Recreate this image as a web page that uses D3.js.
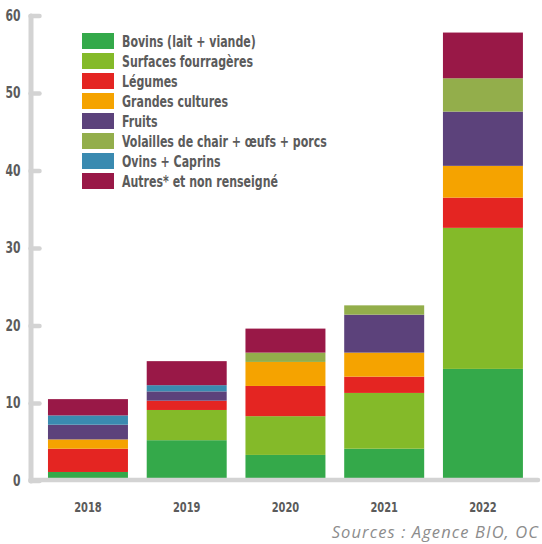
<!DOCTYPE html>
<html>
<head>
<meta charset="utf-8">
<script src="https://cdn.jsdelivr.net/npm/d3@7"></script>
<style>
  html, body { margin: 0; padding: 0; background: #ffffff; }
  svg { display: block; }
</style>
</head>
<body>
<svg id="chart" width="542" height="544"></svg>
<script>
// ---- data ----
const years = ["2018", "2019", "2020", "2021", "2022"];
const seriesNames = [
  "Bovins (lait + viande)",
  "Surfaces fourragères",
  "Légumes",
  "Grandes cultures",
  "Fruits",
  "Volailles de chair + œufs + porcs",
  "Ovins + Caprins",
  "Autres* et non renseigné"
];
const bovins    = [1.1, 5.2, 3.3, 4.1, 14.4];
const surfaces  = [0,   3.9, 5.0, 7.2, 18.2];
const legumes   = [3.0, 1.2, 3.9, 2.1, 3.9];
const grandes   = [1.2, 0,   3.1, 3.1, 4.1];
const fruits    = [1.9, 1.2, 0,   4.9, 7.0];
const volailles = [0,   0,   1.2, 1.2, 4.3];
const ovins     = [1.2, 0.8, 0,   0,   0];
const autres    = [2.1, 3.1, 3.1, 0,   5.9];
const yTicks = [0, 10, 20, 30, 40, 50, 60];
const sourceText = "Sources : Agence BIO, OC";

const colors = ["#34a94a", "#84ba29", "#e42522", "#f5a300", "#5c427b", "#93ae4b", "#3a8ab0", "#991847"];

// ---- build table ----
const seriesValues = [bovins, surfaces, legumes, grandes, fruits, volailles, ovins, autres];
const keys = seriesNames;
const table = years.map((yr, i) => {
  const row = { year: yr };
  keys.forEach((k, j) => { row[k] = seriesValues[j][i]; });
  return row;
});

const svg = d3.select("#chart");
const fontCond = "'Liberation Sans Narrow', 'DejaVu Sans Condensed', 'Roboto', sans-serif";
const textGray = "#5b5b5b";
const axisGray = "#d3d3d3";

const x = d3.scaleBand().domain(years).range([38.1, 532.8]).paddingInner(0.19).paddingOuter(0.1);
const y = d3.scaleLinear().domain([0, 60]).range([480.5, 15.5]);

const stack = d3.stack().keys(keys);
const stacked = stack(table);
const color = d3.scaleOrdinal().domain(keys).range(colors);

// bars
svg.append("g").selectAll("g")
  .data(stacked)
  .join("g")
  .attr("fill", d => color(d.key))
  .selectAll("rect")
  .data(d => d)
  .join("rect")
  .attr("x", d => x(d.data.year))
  .attr("width", x.bandwidth())
  .attr("y", d => y(d[1]))
  .attr("height", d => Math.max(0, y(d[0]) - y(d[1])));

// y axis
const axisX = 30.5;
const yAxis = d3.axisLeft(y).tickValues(yTicks).tickSize(-9).tickSizeOuter(0).tickPadding(10).tickFormat(d3.format("d"));
const gy = svg.append("g").attr("transform", `translate(${axisX},0)`).call(yAxis);
gy.select(".domain").attr("stroke", axisGray).attr("stroke-width", 5).attr("stroke-linecap", "round");
gy.selectAll(".tick line").attr("stroke", axisGray).attr("stroke-width", 4.5).attr("stroke-linecap", "round");
gy.selectAll(".tick text")
  .attr("x", 0)
  .attr("transform", "translate(-10,0) scale(0.8,1)")
  .attr("fill", textGray)
  .attr("font-family", fontCond)
  .attr("font-weight", "bold")
  .attr("font-size", 15)
  .attr("dy", "0.3em");

// baseline
svg.append("line")
  .attr("x1", axisX).attr("x2", 538)
  .attr("y1", y(0) - 0.5).attr("y2", y(0) - 0.5)
  .attr("stroke", axisGray).attr("stroke-width", 4.5).attr("stroke-linecap", "round");

// x axis labels
const xAxis = d3.axisBottom(x).tickSize(0).tickPadding(21);
const gx = svg.append("g").attr("transform", `translate(0,${y(0)})`).call(xAxis);
gx.select(".domain").remove();
gx.selectAll(".tick text")
  .attr("transform", "scale(0.76,1)")
  .attr("fill", textGray)
  .attr("font-family", fontCond)
  .attr("font-weight", "bold")
  .attr("font-size", 14.5);

// legend
const legend = svg.append("g").attr("transform", "translate(82,33)");
const li = legend.selectAll("g").data(keys).join("g")
  .attr("transform", (d, i) => `translate(0,${i * 20})`);
li.append("rect").attr("width", 32).attr("height", 16).attr("fill", d => color(d));
li.append("text")
  .attr("transform", "translate(40,8) scale(0.765,1)")
  .attr("dy", "0.36em")
  .attr("fill", textGray)
  .attr("font-family", fontCond)
  .attr("font-weight", "bold")
  .attr("font-size", 16)
  .text(d => d);

// source
svg.append("text")
  .attr("x", 539).attr("y", 538)
  .attr("text-anchor", "end")
  .attr("fill", "#8c8c8c")
  .attr("font-family", "'Open Sans', 'Noto Sans', sans-serif")
  .attr("font-style", "italic")
  .attr("font-size", 16.5)
  .attr("letter-spacing", 1.1)
  .text(sourceText);
</script>
</body>
</html>
